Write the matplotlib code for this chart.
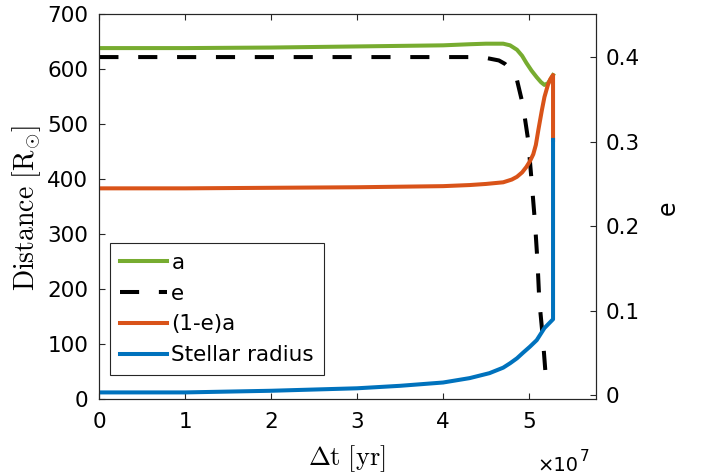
import numpy as np
import matplotlib
matplotlib.use("Agg")
from matplotlib import pyplot as plt
from matplotlib.ticker import FuncFormatter

plt.rcParams["font.family"] = ["DejaVu Sans"]
plt.rcParams["mathtext.fontset"] = "cm"

# time in units of 1e7 yr
t_a = [0, 1, 2, 3, 4, 4.31, 4.5, 4.7, 4.78, 4.86, 4.92, 4.97, 5.03, 5.09, 5.14, 5.18, 5.22, 5.25, 5.28]
a = [638, 638, 639, 641, 643, 645, 646, 646, 643, 635, 624, 611, 597, 585, 576, 571, 574, 581, 589]

t_e = [0, 1, 2, 3, 4, 4.3, 4.5, 4.65, 4.72, 4.78, 4.86, 4.93, 4.99, 5.03, 5.07, 5.10, 5.12, 5.16, 5.20, 5.21]
e = [0.400, 0.400, 0.400, 0.400, 0.400, 0.400, 0.399, 0.396, 0.392, 0.386, 0.373, 0.343, 0.302, 0.254,
     0.204, 0.156, 0.112, 0.069, 0.016, 0.008]

t_q = [0, 1, 2, 3, 4, 4.31, 4.5, 4.7, 4.8, 4.86, 4.92, 4.97, 5.01, 5.05, 5.08, 5.11, 5.15, 5.18, 5.22, 5.25, 5.28, 5.28]
qa = [383, 383, 384, 385, 387, 389, 391, 394, 399, 404, 412, 422, 432, 445, 462, 490, 525, 549, 571, 582, 589, 471]

t_r = [0, 1, 2, 3, 3.5, 4, 4.31, 4.54, 4.7, 4.78, 4.86, 4.93, 5.01, 5.09, 5.18, 5.28, 5.28]
radius = [12, 12, 15, 19.5, 24, 30, 38, 47, 57, 65, 74, 84, 95, 107, 129, 145, 471]

green, orange, blue = "#77AC30", "#D95319", "#0072BD"
dark = "#262626"
lw = 2.9

fig = plt.figure(figsize=(7.06, 4.74), dpi=100)
ax = fig.add_axes([0.1407, 0.1582, 0.7035, 0.8123])
ax2 = ax.twinx()

scale = 1e7
la, = ax.plot(np.array(t_a) * scale, a, color=green, lw=lw, label="a")
lq, = ax.plot(np.array(t_q) * scale, qa, color=orange, lw=lw, label="(1-e)a")
lr, = ax.plot(np.array(t_r) * scale, radius, color=blue, lw=lw, label="Stellar radius")
le, = ax2.plot(np.array(t_e) * scale, e, color="k", lw=lw, dashes=(4.75, 4.9), label="e")

ax.set_xlim(0, 5.78e7)
ax.set_ylim(0, 700)
ax2.set_ylim(-0.0047, 0.451)
ax.set_xticks(np.arange(0, 6) * scale)
ax.xaxis.set_major_formatter(FuncFormatter(lambda v, p: f"{v / scale:g}"))
ax.set_yticks(range(0, 701, 100))
ax2.set_yticks([0, 0.1, 0.2, 0.3, 0.4])
ax2.yaxis.set_major_formatter(FuncFormatter(lambda v, p: f"{v:g}"))

ax.tick_params(axis="x", direction="in", length=4, width=0.8, top=True, labelsize=15.5,
               colors=dark, labelcolor="k", pad=9)
ax.tick_params(axis="y", direction="in", length=4, width=0.8, labelsize=15.5,
               colors=dark, labelcolor="k", pad=8)
ax2.tick_params(axis="y", direction="in", length=4, width=0.8, labelsize=15.5,
                colors=dark, labelcolor="k", pad=7)
for a_ in (ax, ax2):
    for s in a_.spines.values():
        s.set_color(dark)
        s.set_linewidth(0.8)

fig.text(27 / 706, 1 - 208 / 474, r"$\mathrm{Distance\ [R_{\odot}]}$", rotation=90,
         ha="center", va="center", fontsize=20)
fig.text(668 / 706, 1 - 208 / 474, "e", rotation=90, ha="center", va="center", fontsize=17)
fig.text(347 / 706, 1 - 459 / 474, r"$\Delta\mathrm{t\ [yr]}$", ha="center", va="center",
         fontsize=19)
fig.text(537 / 706, 1 - 471 / 474, "×10", ha="left", va="baseline", fontsize=14)
fig.text(580 / 706, 1 - 461 / 474, "7", ha="left", va="baseline", fontsize=11)

leg = ax.legend([la, le, lq, lr], ["a", "e", "(1-e)a", "Stellar radius"],
                loc="upper left", bbox_to_anchor=(0.0215, 0.405), borderaxespad=0,
                fontsize=15.5, handlelength=2.2, handletextpad=0.2, labelspacing=0.5,
                borderpad=0.45, fancybox=False, framealpha=1, edgecolor=dark)
leg.get_frame().set_linewidth(0.8)
leg.set_zorder(5)
ax.set_zorder(ax2.get_zorder() + 1)
ax.patch.set_visible(False)

fig.savefig("out.png", dpi=100)
